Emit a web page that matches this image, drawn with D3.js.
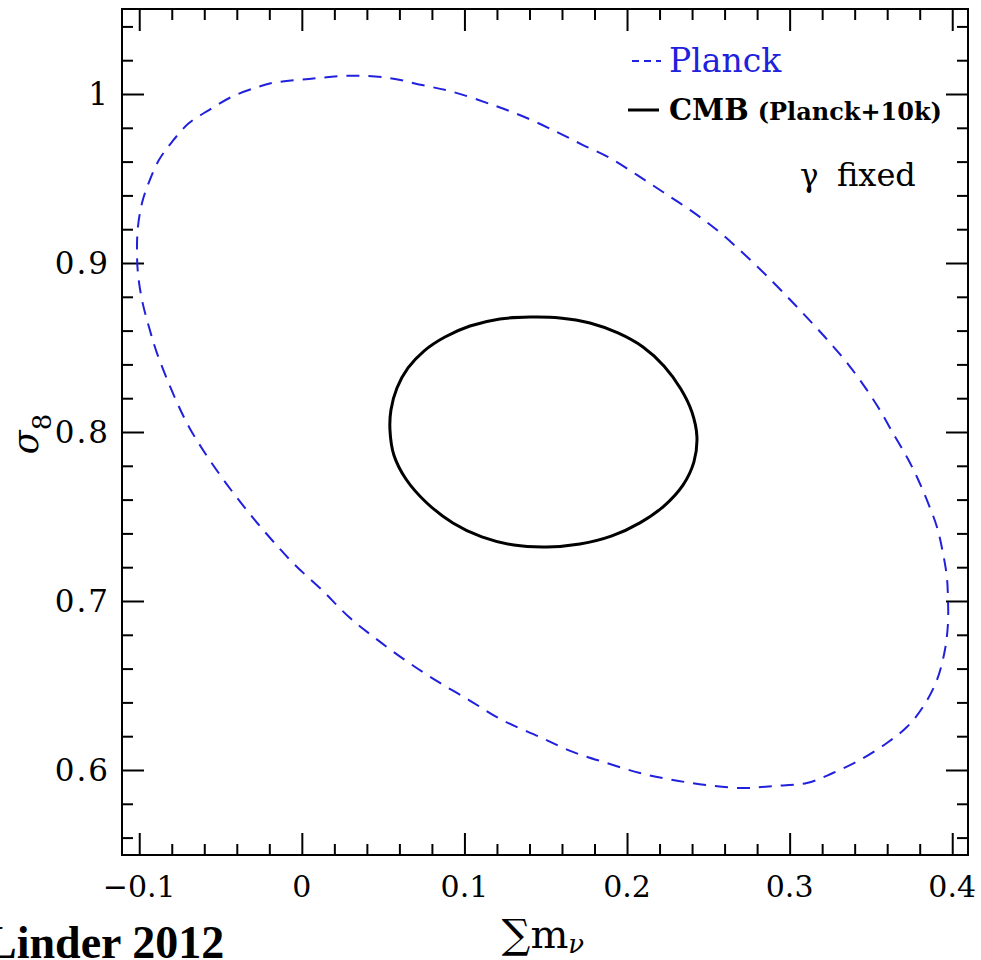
<!DOCTYPE html>
<html>
<head>
<meta charset="utf-8">
<script src="https://cdn.jsdelivr.net/npm/d3@7"></script>
<style>
  html, body { margin: 0; padding: 0; background: #fff; }
  svg { display: block; }
</style>
</head>
<body>
<svg id="chart" width="981" height="960"></svg>
<script>
// ---- data ----
const xMajorTicks = [-0.1, 0, 0.1, 0.2, 0.3, 0.4];
const xTickLabels = ["\u22120.1", "0", "0.1", "0.2", "0.3", "0.4"];
const yMajorTicks = [0.6, 0.7, 0.8, 0.9, 1.0];
const yTickLabels = ["0.6", "0.7", "0.8", "0.9", "1"];

// Planck contour (blue dashed): [sum m_nu, sigma_8]
const planckX = [-0.1014,-0.1008,-0.0983,-0.0940,-0.0879,-0.0799,-0.0694,-0.0571,-0.0430,-0.0288,-0.0184,0.0044,0.0290,0.0536,0.0739,0.0923,0.1175,0.1384,0.1569,0.1729,0.1895,0.2061,0.2221,0.2387,0.2553,0.2713,0.2897,0.3063,0.3217,0.3359,0.3475,0.3555,0.3635,0.3721,0.3783,0.3844,0.3906,0.3943,0.3967,0.3974,0.3974,0.3955,0.3906,0.3820,0.3721,0.3598,0.3432,0.3266,0.3106,0.2897,0.2713,0.2491,0.2282,0.2079,0.1876,0.1667,0.1464,0.1231,0.1028,0.0819,0.0634,0.0450,0.0290,0.0124,-0.0042,-0.0184,-0.0325,-0.0467,-0.0596,-0.0694,-0.0780,-0.0891,-0.0940,-0.0983,-0.1008];
const planckY = [0.9077,0.9213,0.9355,0.9479,0.9609,0.9716,0.9828,0.9905,0.9984,1.0036,1.0065,1.0089,1.0108,1.0095,1.0053,1.0014,0.9935,0.9858,0.9775,0.9698,0.9621,0.9521,0.9420,0.9314,0.9195,0.9059,0.8888,0.8722,0.8562,0.8402,0.8249,0.8130,0.7994,0.7852,0.7734,0.7598,0.7438,0.7284,0.7142,0.7006,0.6870,0.6710,0.6533,0.6373,0.6254,0.6160,0.6059,0.5982,0.5923,0.5905,0.5893,0.5911,0.5941,0.5982,0.6041,0.6107,0.6195,0.6296,0.6414,0.6533,0.6651,0.6781,0.6905,0.7065,0.7213,0.7361,0.7521,0.7698,0.7876,0.8030,0.8201,0.8467,0.8621,0.8781,0.8941];

// CMB (Planck+10k) contour (black solid)
const cmbX = [0.0542,0.0548,0.0585,0.0653,0.0751,0.0880,0.1034,0.1218,0.1403,0.1587,0.1772,0.1944,0.2098,0.2227,0.2331,0.2399,0.2430,0.2411,0.2344,0.2227,0.2079,0.1907,0.1710,0.1507,0.1304,0.1107,0.0929,0.0769,0.0640,0.0566];
const cmbY = [0.8012,0.8130,0.8260,0.8379,0.8479,0.8562,0.8627,0.8669,0.8680,0.8675,0.8645,0.8586,0.8503,0.8391,0.8254,0.8118,0.7970,0.7822,0.7686,0.7562,0.7462,0.7385,0.7337,0.7320,0.7331,0.7379,0.7462,0.7580,0.7722,0.7864];

const legendLabels = ["Planck", "CMB", "(Planck+10k)"];
const annotation = ["\u03B3", "fixed"];

// ---- layout ----
const svg = d3.select("#chart");
const L = 122, R = 968, T = 9, B = 855;
const x = d3.scaleLinear().domain([-0.1106, 0.4097]).range([L, R]);
const y = d3.scaleLinear().domain([0.5497, 1.0503]).range([B, T]);

const xMinor = d3.range(-0.1, 0.4001, 0.02).map(v => +v.toFixed(2)).filter(v => !xMajorTicks.some(m => Math.abs(m - v) < 1e-9));
const yMinor = d3.range(0.56, 1.0401, 0.02).map(v => +v.toFixed(2)).filter(v => !yMajorTicks.some(m => Math.abs(m - v) < 1e-9));

function styleAxis(g) {
  g.select(".domain").remove();
  g.selectAll("line").attr("stroke", "#000").attr("stroke-width", 2);
}
const MAJ = 22, MIN = 11;
// bottom
svg.append("g").attr("transform", `translate(0,${B})`)
  .call(d3.axisBottom(x).tickValues(xMajorTicks).tickSize(-MAJ).tickFormat("")).call(styleAxis);
svg.append("g").attr("transform", `translate(0,${B})`)
  .call(d3.axisBottom(x).tickValues(xMinor).tickSize(-MIN).tickFormat("")).call(styleAxis);
// top
svg.append("g").attr("transform", `translate(0,${T})`)
  .call(d3.axisTop(x).tickValues(xMajorTicks).tickSize(-MAJ).tickFormat("")).call(styleAxis);
svg.append("g").attr("transform", `translate(0,${T})`)
  .call(d3.axisTop(x).tickValues(xMinor).tickSize(-MIN).tickFormat("")).call(styleAxis);
// left
svg.append("g").attr("transform", `translate(${L},0)`)
  .call(d3.axisLeft(y).tickValues(yMajorTicks).tickSize(-MAJ).tickFormat("")).call(styleAxis);
svg.append("g").attr("transform", `translate(${L},0)`)
  .call(d3.axisLeft(y).tickValues(yMinor).tickSize(-MIN).tickFormat("")).call(styleAxis);
// right
svg.append("g").attr("transform", `translate(${R},0)`)
  .call(d3.axisRight(y).tickValues(yMajorTicks).tickSize(-MAJ).tickFormat("")).call(styleAxis);
svg.append("g").attr("transform", `translate(${R},0)`)
  .call(d3.axisRight(y).tickValues(yMinor).tickSize(-MIN).tickFormat("")).call(styleAxis);

// frame
svg.append("rect").attr("x", L).attr("y", T).attr("width", R - L).attr("height", B - T)
  .attr("fill", "none").attr("stroke", "#000").attr("stroke-width", 2);

// tick labels
svg.append("g").selectAll("text").data(xMajorTicks).join("text")
  .attr("x", d => x(d)).attr("y", 897)
  .attr("text-anchor", "middle")
  .attr("font-family", "DejaVu Serif")
  .attr("font-size", 30).attr("fill", "#000")
  .text((d, i) => xTickLabels[i]);

svg.append("g").selectAll("text").data(yMajorTicks).join("text")
  .attr("x", 110).attr("y", d => y(d) + 11)
  .attr("text-anchor", "end")
  .attr("font-family", "DejaVu Serif")
  .attr("font-size", 31).attr("letter-spacing", 2).attr("fill", "#000")
  .text((d, i) => yTickLabels[i]);

// contours
const line = d3.line().x(d => x(d[0])).y(d => y(d[1])).curve(d3.curveCatmullRomClosed.alpha(0.5));
const planck = planckX.map((v, i) => [v, planckY[i]]);
const cmb = cmbX.map((v, i) => [v, cmbY[i]]);

svg.append("path").attr("d", line(planck))
  .attr("fill", "none").attr("stroke", "#2020dd").attr("stroke-width", 2)
  .attr("stroke-dasharray", "13,9");
svg.append("path").attr("d", line(cmb))
  .attr("fill", "none").attr("stroke", "#000").attr("stroke-width", 3);

// legend
svg.append("line").attr("x1", 632).attr("x2", 661).attr("y1", 61).attr("y2", 61)
  .attr("stroke", "#2020dd").attr("stroke-width", 2).attr("stroke-dasharray", "7,5");
svg.append("text").attr("x", 669).attr("y", 72)
  .attr("font-family", "DejaVu Serif").attr("font-size", 33).attr("fill", "#2020dd")
  .text(legendLabels[0]);
svg.append("line").attr("x1", 628).attr("x2", 659).attr("y1", 110).attr("y2", 110)
  .attr("stroke", "#000").attr("stroke-width", 3);
const t2 = svg.append("text").attr("x", 669).attr("y", 120)
  .attr("font-family", "DejaVu Serif").attr("fill", "#000");
t2.append("tspan").attr("font-size", 29).attr("font-weight", "bold").text(legendLabels[1]);
t2.append("tspan").attr("dx", 9).attr("font-size", 24).attr("font-weight", "bold").text(legendLabels[2]);

svg.append("text").attr("x", 800).attr("y", 186)
  .attr("font-family", "DejaVu Serif").attr("font-size", 31).attr("fill", "#000")
  .text(annotation[0]);
svg.append("text").attr("x", 837).attr("y", 186)
  .attr("font-family", "DejaVu Serif").attr("font-size", 32).attr("fill", "#000")
  .text(annotation[1]);

// axis titles
const xt = svg.append("text").attr("x", 543).attr("y", 948).attr("text-anchor", "middle")
  .attr("font-family", "DejaVu Serif").attr("fill", "#000");
xt.append("tspan").attr("font-size", 40).text("\u2211m");
xt.append("tspan").attr("font-size", 26).attr("dy", 5).attr("font-style", "italic").text("\u03BD");

const yt = svg.append("text").attr("transform", "translate(38,434) rotate(-90)")
  .attr("text-anchor", "middle").attr("font-family", "DejaVu Serif").attr("fill", "#000");
yt.append("tspan").attr("font-size", 35).attr("font-style", "italic").text("\u03C3");
yt.append("tspan").attr("font-size", 26).attr("dy", 13).text("8");

// source note, partially cut off at the left edge (as in the reference)
svg.append("text").attr("x", -14).attr("y", 958)
  .attr("font-family", "Liberation Serif").attr("font-weight", "bold")
  .attr("font-size", 46).attr("fill", "#000").text("Linder 2012");
</script>
</body>
</html>
